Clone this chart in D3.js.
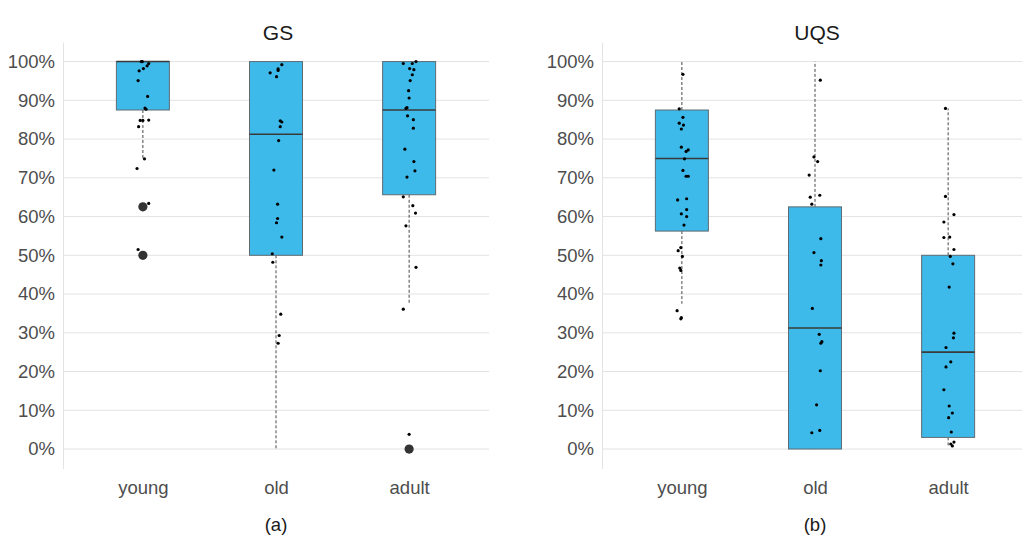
<!DOCTYPE html>
<html>
<head>
<meta charset="utf-8">
<script src="https://cdn.jsdelivr.net/npm/d3@7"></script>
<style>
  html, body { margin: 0; padding: 0; background: #fff; }
  svg { display: block; font-family: "Liberation Sans", Arial, sans-serif; }
</style>
</head>
<body>
<svg id="chart" width="1022" height="541"></svg>
<script>
// Age groups shown on each panel
const groups = ["young", "old", "adult"];
const yTicks = [0, 0.1, 0.2, 0.3, 0.4, 0.5, 0.6, 0.7, 0.8, 0.9, 1.0];

// GS: box statistics per group [whiskerLow, q1, median, q3, whiskerHigh]
const gsStats = [
  [0.75, 0.875, 1.0, 1.0, 1.0],
  [0.0, 0.5, 0.8125, 1.0, 1.0],
  [0.375, 0.65625, 0.875, 1.0, 1.0]
];
const gsOutliers = [[0.625, 0.5], [], [0.0]];

// UQS: box statistics per group
const uqsStats = [
  [0.375, 0.5625, 0.75, 0.875, 1.0],
  [0.0, 0.0, 0.3125, 0.625, 1.0],
  [0.005, 0.03, 0.25, 0.5, 0.879]
];
const uqsOutliers = [[], [], []];

// Individual observations: [score, horizontal jitter as a share of box width]
const gsYoung = [[1.0,-0.03],[1.0,-0.01],[0.995,0.11],[0.989,0.08],[0.982,0.01],[0.976,-0.07],
  [0.951,-0.09],[0.91,0.09],[0.88,0.04],[0.877,0.06],[0.848,-0.05],[0.848,0.0],[0.849,0.11],
  [0.832,-0.08],[0.749,0.03],[0.724,-0.11],[0.634,0.11],[0.515,-0.09]];
const gsOld = [[0.992,0.11],[0.981,0.04],[0.977,0.04],[0.971,-0.11],[0.961,0.01],[0.847,0.08],
  [0.844,0.11],[0.832,0.08],[0.796,0.05],[0.72,-0.04],[0.632,0.03],[0.595,0.03],[0.584,0.01],
  [0.547,0.11],[0.504,-0.07],[0.482,-0.06],[0.348,0.09],[0.293,0.06],[0.273,0.04]];
const gsAdult = [[1.0,0.13],[0.995,0.06],[0.995,-0.11],[0.982,0.01],[0.979,0.09],[0.966,0.06],
  [0.951,0.02],[0.925,-0.01],[0.906,0.0],[0.881,-0.04],[0.879,-0.06],[0.86,-0.03],[0.85,0.08],
  [0.828,0.08],[0.774,-0.08],[0.742,0.09],[0.718,0.11],[0.702,-0.04],[0.651,-0.11],[0.628,0.07],
  [0.609,0.12],[0.576,-0.06],[0.469,0.13],[0.361,-0.11],[0.038,0.0]];
const uqsYoung = [[0.967,0.02],[0.878,-0.05],[0.856,0.02],[0.841,-0.05],[0.836,0.03],[0.826,-0.01],
  [0.779,-0.01],[0.772,0.12],[0.768,0.08],[0.749,0.05],[0.719,0.02],[0.704,0.08],[0.704,0.12],
  [0.643,-0.08],[0.646,0.09],[0.618,0.09],[0.607,-0.01],[0.60,0.09],[0.578,0.04],[0.512,-0.07],
  [0.52,-0.02],[0.497,0.01],[0.467,-0.04],[0.461,-0.02],[0.357,-0.09],[0.339,-0.01],[0.336,-0.02]];
const uqsOld = [[0.952,0.1],[0.754,-0.02],[0.742,0.05],[0.707,-0.11],[0.65,-0.09],[0.655,0.09],
  [0.632,-0.06],[0.543,0.11],[0.507,-0.02],[0.486,0.12],[0.475,0.11],[0.363,-0.05],[0.296,0.08],
  [0.277,0.13],[0.273,0.11],[0.202,0.1],[0.114,0.03],[0.048,0.09],[0.042,-0.06]];
const uqsAdult = [[0.879,-0.05],[0.652,-0.05],[0.605,0.11],[0.586,-0.08],[0.546,-0.08],[0.547,0.03],
  [0.515,0.11],[0.497,0.04],[0.478,0.09],[0.418,0.02],[0.299,0.11],[0.287,0.1],[0.262,-0.04],
  [0.225,0.05],[0.212,-0.04],[0.153,-0.08],[0.111,0.02],[0.093,0.08],[0.081,0.01],[0.044,0.06],
  [0.018,0.11],[0.013,0.05],[0.008,0.08]];

const panels = [
  { title: "GS", caption: "(a)", stats: gsStats, outliers: gsOutliers, points: [gsYoung, gsOld, gsAdult], x0: 63 },
  { title: "UQS", caption: "(b)", stats: uqsStats, outliers: uqsOutliers, points: [uqsYoung, uqsOld, uqsAdult], x0: 602 }
];

const svg = d3.select("#chart");
const panelWidth = 426;
const boxWidth = 53;
const fill = "#3dbaea";
const font = "'Liberation Sans', Arial, sans-serif";

const y = d3.scaleLinear().domain([-0.05, 1.05]).range([468.4, 42.2]);

panels.forEach(p => {
  const x = d3.scalePoint().domain(groups).range([p.x0, p.x0 + panelWidth]).padding(0.6);
  const g = svg.append("g");

  // horizontal grid
  g.append("g").selectAll("line").data(yTicks).join("line")
    .attr("x1", p.x0).attr("x2", p.x0 + panelWidth)
    .attr("y1", d => y(d)).attr("y2", d => y(d))
    .attr("stroke", "#e3e3e3").attr("stroke-width", 1);

  // y axis
  const yAxis = d3.axisLeft(y).tickValues(yTicks).tickFormat(d3.format(".0%")).tickSize(0).tickPadding(8);
  const ya = g.append("g").attr("transform", `translate(${p.x0},0)`).call(yAxis);
  ya.select(".domain").attr("stroke", "#e3e3e3");
  ya.selectAll("text").attr("font-size", 18.5).attr("fill", "#4d4d4d").attr("font-family", font);

  // x axis labels
  const xAxis = d3.axisBottom(x).tickSize(0).tickPadding(0);
  const xa = g.append("g").attr("transform", `translate(0,${y(-0.05) + 12})`).call(xAxis);
  xa.select(".domain").remove();
  xa.selectAll("text").attr("font-size", 18.5).attr("fill", "#4d4d4d").attr("font-family", font);

  // title and caption
  const cx = p.x0 + panelWidth / 2;
  g.append("text").attr("x", cx + 2).attr("y", 40).attr("text-anchor", "middle")
    .attr("font-size", 21).attr("fill", "#1a1a1a").text(p.title);
  g.append("text").attr("x", cx).attr("y", 531).attr("text-anchor", "middle")
    .attr("font-size", 18.5).attr("fill", "#1a1a1a").text(p.caption);

  groups.forEach((grp, i) => {
    const [lo, q1, med, q3, hi] = p.stats[i];
    const xc = x(grp);
    // whiskers
    g.append("line").attr("x1", xc).attr("x2", xc).attr("y1", y(q3)).attr("y2", y(hi))
      .attr("stroke", "#333").attr("stroke-width", 0.9).attr("stroke-dasharray", "3,2");
    g.append("line").attr("x1", xc).attr("x2", xc).attr("y1", y(q1)).attr("y2", y(lo))
      .attr("stroke", "#333").attr("stroke-width", 0.9).attr("stroke-dasharray", "3,2");
    // box
    g.append("rect").attr("x", xc - boxWidth / 2).attr("width", boxWidth)
      .attr("y", y(q3)).attr("height", Math.max(0, y(q1) - y(q3)))
      .attr("fill", fill).attr("stroke", "#5f6b72").attr("stroke-width", 1);
    // median
    g.append("line").attr("x1", xc - boxWidth / 2).attr("x2", xc + boxWidth / 2)
      .attr("y1", y(med)).attr("y2", y(med))
      .attr("stroke", "#3a3a3a").attr("stroke-width", 1.6);
    // outliers
    g.append("g").selectAll("circle").data(p.outliers[i]).join("circle")
      .attr("cx", xc).attr("cy", d => y(d)).attr("r", 4.6).attr("fill", "#333");
    // jittered observations
    g.append("g").selectAll("circle").data(p.points[i]).join("circle")
      .attr("cx", d => xc + d[1] * boxWidth).attr("cy", d => y(d[0]))
      .attr("r", 1.6).attr("fill", "#000");
  });
});
</script>
</body>
</html>
